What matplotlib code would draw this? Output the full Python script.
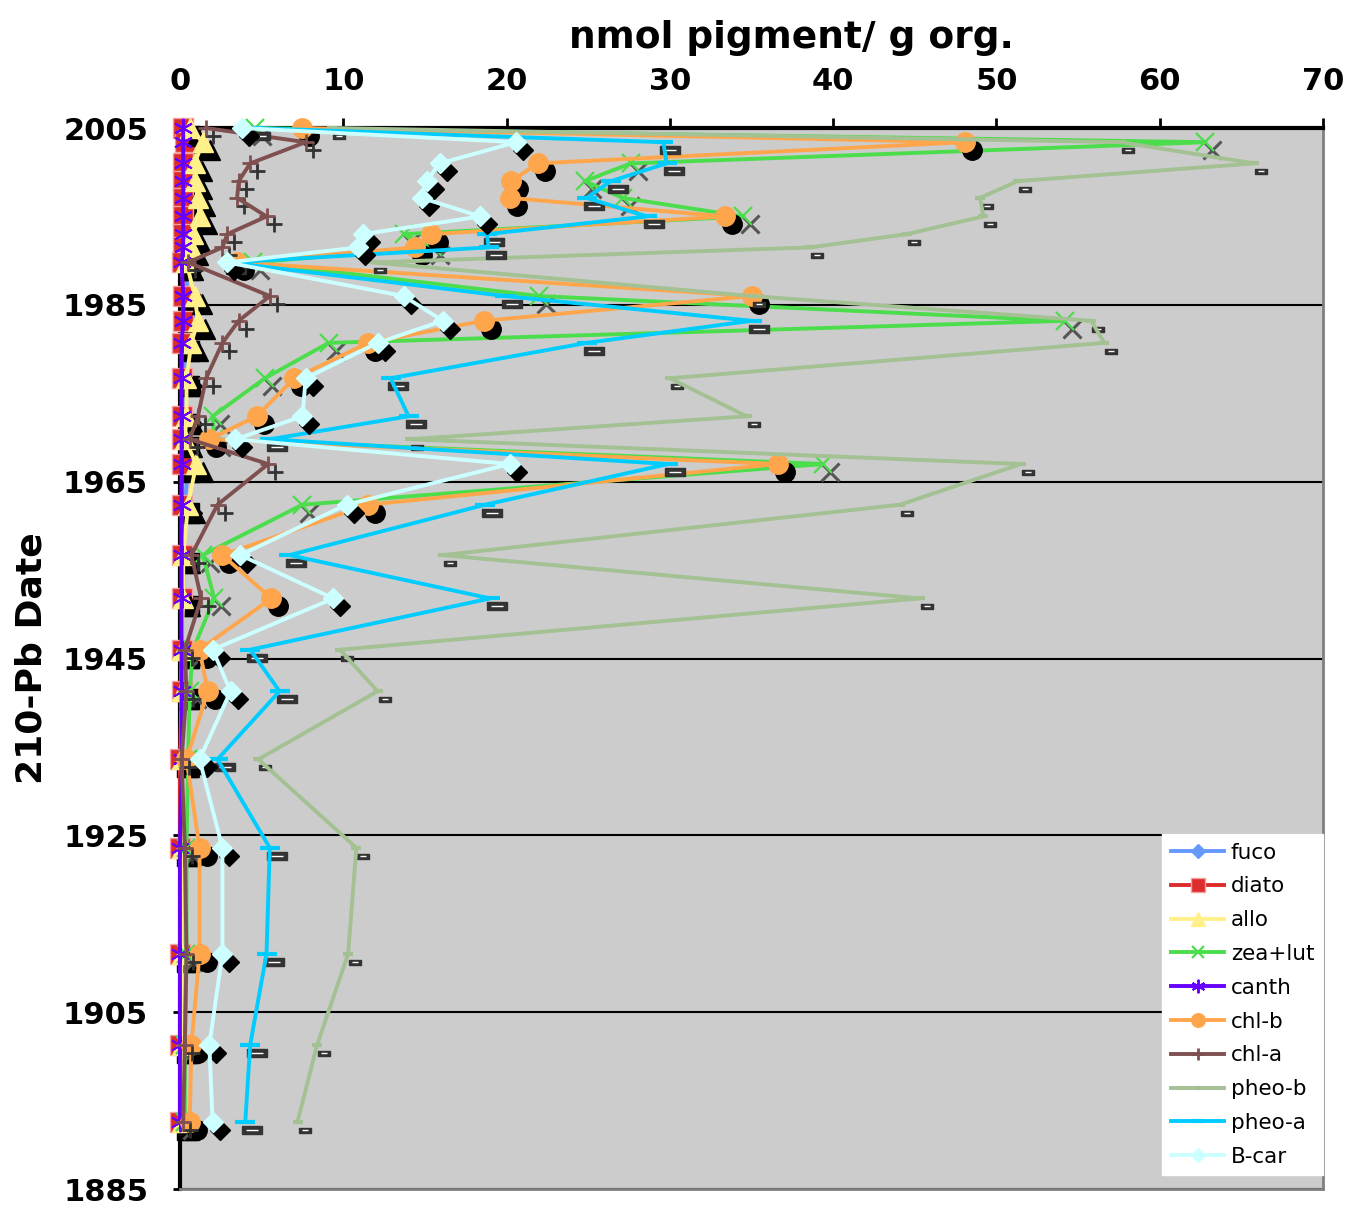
import matplotlib
matplotlib.use("Agg")
import matplotlib.pyplot as plt
import matplotlib.transforms as mtransforms

plt.rcParams['font.family'] = ['DejaVu Sans']

# 210-Pb dates of the samples
years = [2005.0, 2003.4, 2001.0, 1999.0, 1997.1, 1995.0, 1993.0, 1991.5, 1989.8,
         1986.0, 1983.2, 1980.7, 1976.7, 1972.4, 1969.8, 1967.0, 1962.4, 1956.7,
         1951.8, 1946.0, 1941.3, 1933.6, 1923.6, 1911.6, 1901.3, 1892.6]

# nmol pigment / g org.
fuco = [0.4, 0.6, 0.5, 0.5, 0.5, 0.6, 0.5, 0.4, 0.3, 0.5, 0.6, 0.4, 0.3,
        0.3, 0.2, 0.5, 0.3, 0.2, 0.2, 0.1, 0.1, 0.1, 0.1, 0.1, 0.1, 0.1]
diato = [0.2, 0.3, 0.2, 0.2, 0.2, 0.2, 0.2, 0.2, 0.1, 0.2, 0.2, 0.1, 0.1,
         0.1, 0.1, 0.1, 0.1, 0.1, 0.1, 0.1, 0.1, 0.0, 0.0, 0.0, 0.0, 0.0]
allo = [0.6, 1.4, 0.9, 0.9, 1.1, 1.2, 0.8, 0.7, 0.4, 0.9, 1.1, 0.7, 0.4,
        0.4, 0.3, 1.0, 0.5, 0.2, 0.2, 0.1, 0.1, 0.1, 0.1, 0.1, 0.1, 0.1]
zea_lut = [4.6, 62.8, 27.6, 24.8, 27.1, 34.5, 13.7, 15.5, 4.5, 22.0, 54.2, 9.1, 5.2,
           2.0, 2.1, 39.4, 7.5, 1.4, 2.1, 0.8, 0.6, 0.5, 0.4, 0.4, 0.3, 0.3]
canth = [0.2, 0.2, 0.2, 0.2, 0.2, 0.2, 0.2, 0.2, 0.1, 0.2, 0.2, 0.1, 0.1,
         0.1, 0.1, 0.1, 0.1, 0.1, 0.1, 0.1, 0.1, 0.1, 0.0, 0.0, 0.0, 0.0]
chl_b = [7.5, 48.1, 21.9, 20.3, 20.2, 33.4, 15.4, 14.4, 3.5, 35.0, 18.6, 11.5, 7.0,
         4.7, 1.8, 36.6, 11.5, 2.6, 5.6, 1.2, 1.7, 0.4, 1.2, 1.2, 0.7, 0.6]
chl_a = [1.6, 7.7, 4.3, 3.6, 3.5, 5.3, 2.9, 2.6, 0.5, 5.5, 3.6, 2.6, 1.6,
         1.1, 0.6, 5.4, 2.3, 0.7, 1.3, 0.3, 0.4, 0.1, 0.3, 0.4, 0.3, 0.2]
pheo_b = [9.3, 57.6, 65.8, 51.3, 49.0, 49.2, 44.5, 38.6, 11.8, 35.0, 55.8, 56.6, 30.0,
          34.7, 14.1, 51.5, 44.1, 16.1, 45.3, 9.8, 12.1, 4.8, 10.8, 10.3, 8.4, 7.2]
pheo_a = [4.5, 29.6, 29.8, 26.4, 24.9, 28.6, 18.8, 18.9, 3.0, 19.9, 35.0, 24.9, 12.9,
          14.0, 5.5, 29.9, 18.7, 6.7, 19.0, 4.3, 6.1, 2.3, 5.5, 5.3, 4.3, 4.0]
b_car = [3.8, 20.6, 15.9, 15.1, 14.8, 18.4, 11.2, 10.9, 2.9, 13.7, 16.1, 12.1, 7.7,
         7.5, 3.4, 20.2, 10.2, 3.7, 9.4, 2.0, 3.1, 1.2, 2.6, 2.6, 1.8, 2.0]

x_ticks = [0, 10, 20, 30, 40, 50, 60, 70]
y_ticks = [1885, 1905, 1925, 1945, 1965, 1985, 2005]

box = [(-1, -0.4), (1, -0.4), (1, 0.4), (-1, 0.4), (-1, -0.4)]

# name, values, color, marker, size, face, edge, mew, shadow kind
series = [
    ("fuco", fuco, "#6699FF", "D", 10, "#6699FF", "#6699FF", 1, "solid"),
    ("diato", diato, "#DD2C2C", "s", 14, "#DD2C2C", "#F4A0A0", 1, "solid"),
    ("allo", allo, "#FFF08A", "^", 14, "#FFF08A", "#FFF08A", 1, "solid"),
    ("zea+lut", zea_lut, "#4CDD4C", "x", 13, "#4CDD4C", "#4CDD4C", 1.6, "cross"),
    ("canth", canth, "#6600FF", (6, 2, 0), 14, "#6600FF", "#6600FF", 1.4, "none"),
    ("chl-b", chl_b, "#FFA64D", "o", 14, "#FFA64D", "#FFA64D", 1, "solid"),
    ("chl-a", chl_a, "#7F5050", "+", 12, "#7F5050", "#7F5050", 2, "plus"),
    ("pheo-b", pheo_b, "#A3C193", "_", 7, "#A3C193", "#A3C193", 3, "box_s"),
    ("pheo-a", pheo_a, "#00CCFF", "_", 14, "#00CCFF", "#00CCFF", 3, "box_w"),
    ("B-car", b_car, "#CCFFFF", "D", 10, "#CCFFFF", "#CCFFFF", 1, "solid"),
]

fig = plt.figure(figsize=(13.52, 12.09), dpi=100)
ax = fig.add_axes([0.1331, 0.0165, 0.8455, 0.8776])
ax.set_facecolor("#CCCCCC")

shadow_tr = ax.transData + mtransforms.ScaledTranslation(7 / 100, -8 / 100, fig.dpi_scale_trans)

z = 3
for name, vals, col, mk, ms, mfc, mec, mew, shadow in series:
    if shadow == "solid":
        ax.plot(vals, years, linestyle="none", marker=mk, ms=ms, mfc="black", mec="black",
                transform=shadow_tr, zorder=z, clip_on=False)
    elif shadow == "cross":
        ax.plot(vals, years, linestyle="none", marker=mk, ms=ms, mec="#555555", mew=2.2,
                transform=shadow_tr, zorder=z, clip_on=False)
    elif shadow == "plus":
        ax.plot(vals, years, linestyle="none", marker=mk, ms=ms, mec="#333333", mew=2,
                transform=shadow_tr, zorder=z, clip_on=False)
    elif shadow in ("box_s", "box_w"):
        bs = 9 if shadow == "box_s" else 15
        ax.plot(vals, years, linestyle="none", marker=box, ms=bs, mfc="#333333", mec="#333333",
                mew=1, transform=shadow_tr, zorder=z, clip_on=False)
        ax.plot(vals, years, linestyle="none", marker="_", ms=bs * 0.55, mec="white", mew=1,
                transform=shadow_tr, zorder=z, clip_on=False)
    ax.plot(vals, years, color=col, lw=2.8, marker=mk, ms=ms, mfc=mfc, mec=mec, mew=mew,
            label=name, zorder=z + 1, clip_on=False)
    z += 2

ax.set_xlim(0, 70)
ax.set_ylim(1885, 2005)
ax.set_xticks(x_ticks)
ax.set_yticks(y_ticks)
ax.xaxis.tick_top()
ax.xaxis.set_label_position("top")
ax.tick_params(axis="x", direction="out", length=7, width=2, pad=16, labelsize=22)
ax.tick_params(axis="y", direction="out", length=5, width=2, pad=18, labelsize=22)
for lab in ax.get_xticklabels() + ax.get_yticklabels():
    lab.set_fontweight("bold")

ax.grid(axis="y", color="black", lw=1.5, zorder=1)
ax.set_axisbelow(True)
ax.spines["top"].set_linewidth(3)
ax.spines["left"].set_linewidth(3)
ax.spines["right"].set_color("#808080")
ax.spines["right"].set_linewidth(2)
ax.spines["bottom"].set_color("#808080")
ax.spines["bottom"].set_linewidth(2)

ax.set_xlabel("nmol pigment/ g org.", fontsize=27, fontweight="bold")
ax.xaxis.set_label_coords(0.535, 1.075)
ax.set_ylabel("210-Pb Date", fontsize=26, fontweight="bold")
ax.yaxis.set_label_coords(-0.115, 0.5)

leg = ax.legend(loc="lower right", bbox_to_anchor=(1.0, 0.013), borderaxespad=0,
                fontsize=15.5, markerscale=0.7, handlelength=2.5, handletextpad=0.3,
                labelspacing=0.64, fancybox=False, framealpha=1, edgecolor="white",
                borderpad=0.4)
leg.set_zorder(50)

fig.savefig("out.png", dpi=100)
